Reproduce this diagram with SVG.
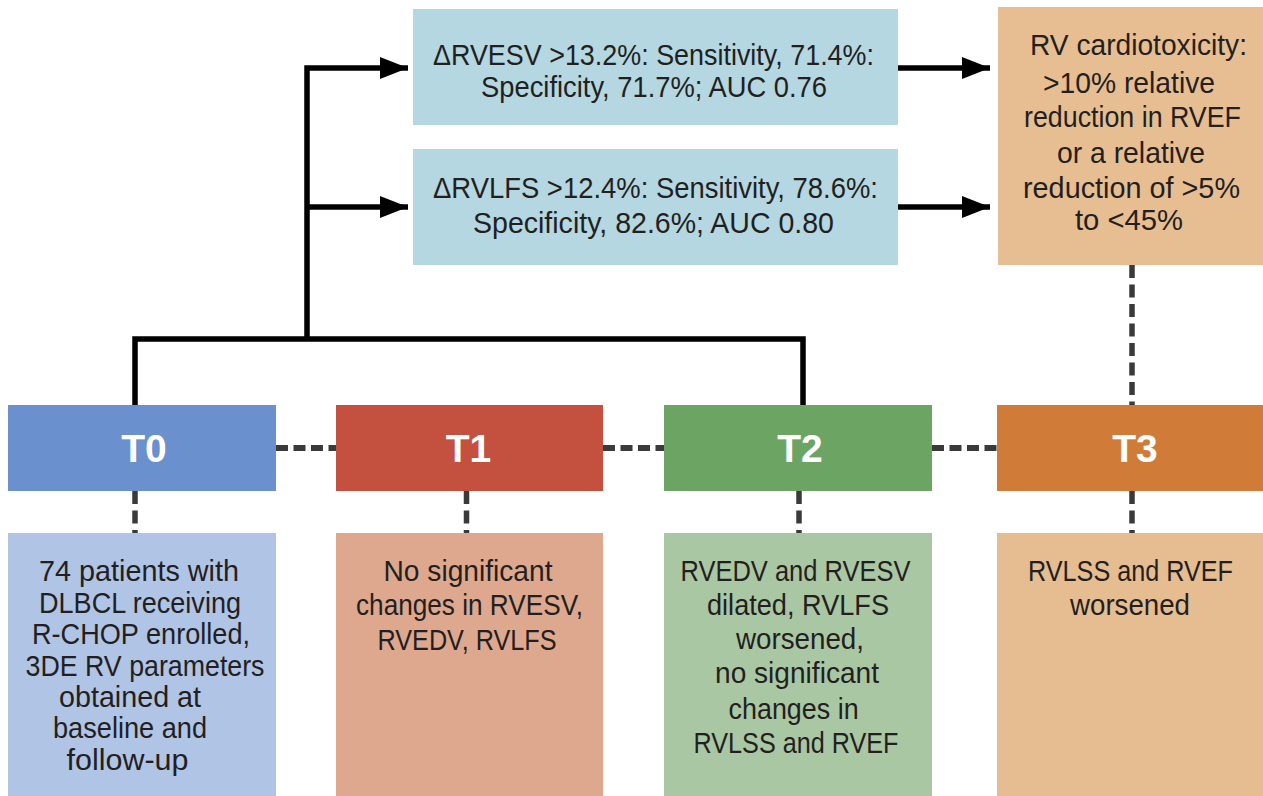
<svg xmlns="http://www.w3.org/2000/svg" width="1263" height="796" viewBox="0 0 1263 796">
<style>
  .t { font-family: "Liberation Sans", Arial, sans-serif; fill: #231F20; text-anchor: middle; }
  .top { font-size: 30px; }
  .bot { font-size: 29px; }
  .lbl { font-family: "Liberation Sans", Arial, sans-serif; font-size: 39px; font-weight: bold; fill: #FFFFFF; text-anchor: middle; }
  .solid { fill: none; stroke: #000000; stroke-width: 5.5; stroke-linejoin: miter; stroke-linecap: butt; }
  .dashH { fill: none; stroke: #3A3A3A; stroke-width: 6; stroke-dasharray: 12 5.5; }
  .dashV { fill: none; stroke: #3A3A3A; stroke-width: 5.5; stroke-dasharray: 13 6.5; }
</style>
<defs>
  <marker id="arr" markerUnits="userSpaceOnUse" markerWidth="30" markerHeight="24" refX="28" refY="11" orient="auto">
    <path d="M0,0 L28,11 L0,22 Z" fill="#000000"/>
  </marker>
</defs>
<rect width="1263" height="796" fill="#FFFFFF"/>

<g id="connectors">
  <path class="solid" d="M135,405 V339 H803 V405"/>
  <path class="solid" d="M307,339 V68 H408" marker-end="url(#arr)"/>
  <path class="solid" d="M307,207 H408" marker-end="url(#arr)"/>
  <path class="solid" d="M898,68 H990" marker-end="url(#arr)"/>
  <path class="solid" d="M898,207 H990" marker-end="url(#arr)"/>
  <path class="dashH" d="M276,448 H336"/>
  <path class="dashH" d="M603,448 H664"/>
  <path class="dashH" d="M932,448 H997"/>
  <path class="dashV" d="M1132,265 V405"/>
  <path class="dashV" d="M135,491 V533"/>
  <path class="dashV" d="M466.5,491 V533"/>
  <path class="dashV" d="M799,491 V533"/>
  <path class="dashV" d="M1132,491 V533"/>
</g>

<g id="box-rvesv">
  <rect x="413" y="9" width="485" height="116" fill="#B4D7E1"/>
  <text class="t top" x="653.5" y="65" textLength="441" lengthAdjust="spacingAndGlyphs">ΔRVESV &gt;13.2%: Sensitivity, 71.4%:</text>
  <text class="t top" x="654" y="97" textLength="346" lengthAdjust="spacingAndGlyphs">Specificity, 71.7%; AUC 0.76</text>
</g>

<g id="box-rvlfs">
  <rect x="413" y="149" width="485" height="116" fill="#B4D7E1"/>
  <text class="t top" x="655.5" y="198" textLength="445" lengthAdjust="spacingAndGlyphs">ΔRVLFS &gt;12.4%: Sensitivity, 78.6%:</text>
  <text class="t top" x="653.5" y="233" textLength="361" lengthAdjust="spacingAndGlyphs">Specificity, 82.6%; AUC 0.80</text>
</g>

<g id="box-cardiotox">
  <rect x="998" y="7" width="265" height="258" fill="#E7BE92"/>
  <text class="t top" x="1138.5" y="55" textLength="217" lengthAdjust="spacingAndGlyphs">RV cardiotoxicity:</text>
  <text class="t top" x="1129" y="93" textLength="172" lengthAdjust="spacingAndGlyphs">&gt;10% relative</text>
  <text class="t top" x="1132.5" y="127" textLength="217" lengthAdjust="spacingAndGlyphs">reduction in RVEF</text>
  <text class="t top" x="1131" y="163" textLength="148" lengthAdjust="spacingAndGlyphs">or a relative</text>
  <text class="t top" x="1131.5" y="198" textLength="217" lengthAdjust="spacingAndGlyphs">reduction of &gt;5%</text>
  <text class="t top" x="1129" y="230" textLength="108" lengthAdjust="spacingAndGlyphs">to &lt;45%</text>
</g>

<g id="node-t0">
  <rect x="8" y="405" width="268" height="86" fill="#6A91CE"/>
  <text class="lbl" x="144" y="462">T0</text>
</g>
<g id="node-t1">
  <rect x="336" y="405" width="267" height="86" fill="#C45140"/>
  <text class="lbl" x="468.5" y="462">T1</text>
</g>
<g id="node-t2">
  <rect x="664" y="405" width="268" height="86" fill="#6CA563"/>
  <text class="lbl" x="800" y="462">T2</text>
</g>
<g id="node-t3">
  <rect x="997" y="405" width="266" height="86" fill="#D07C38"/>
  <text class="lbl" x="1135" y="462">T3</text>
</g>

<g id="desc-t0">
  <rect x="8" y="533" width="268" height="263" fill="#B0C4E6"/>
  <text class="t bot" x="139" y="581" textLength="200" lengthAdjust="spacingAndGlyphs">74 patients with</text>
  <text class="t bot" x="140" y="613" textLength="202" lengthAdjust="spacingAndGlyphs">DLBCL receiving</text>
  <text class="t bot" x="141" y="644" textLength="218" lengthAdjust="spacingAndGlyphs">R-CHOP enrolled,</text>
  <text class="t bot" x="145" y="676" textLength="239" lengthAdjust="spacingAndGlyphs">3DE RV parameters</text>
  <text class="t bot" x="130" y="707" textLength="142" lengthAdjust="spacingAndGlyphs">obtained at</text>
  <text class="t bot" x="130" y="738" textLength="154" lengthAdjust="spacingAndGlyphs">baseline and</text>
  <text class="t bot" x="127.5" y="770" textLength="122" lengthAdjust="spacingAndGlyphs">follow-up</text>
</g>

<g id="desc-t1">
  <rect x="336" y="533" width="267" height="263" fill="#DEA88F"/>
  <text class="t bot" x="468" y="581" textLength="169" lengthAdjust="spacingAndGlyphs">No significant</text>
  <text class="t bot" x="469.5" y="615" textLength="227" lengthAdjust="spacingAndGlyphs">changes in RVESV,</text>
  <text class="t bot" x="467" y="650" textLength="179" lengthAdjust="spacingAndGlyphs">RVEDV, RVLFS</text>
</g>

<g id="desc-t2">
  <rect x="664" y="533" width="268" height="263" fill="#AAC7A4"/>
  <text class="t bot" x="795.5" y="581" textLength="230" lengthAdjust="spacingAndGlyphs">RVEDV and RVESV</text>
  <text class="t bot" x="798" y="615" textLength="182" lengthAdjust="spacingAndGlyphs">dilated, RVLFS</text>
  <text class="t bot" x="800" y="649" textLength="128" lengthAdjust="spacingAndGlyphs">worsened,</text>
  <text class="t bot" x="797" y="683" textLength="164" lengthAdjust="spacingAndGlyphs">no significant</text>
  <text class="t bot" x="793.6" y="719" textLength="130" lengthAdjust="spacingAndGlyphs">changes in</text>
  <text class="t bot" x="796" y="753" textLength="205" lengthAdjust="spacingAndGlyphs">RVLSS and RVEF</text>
</g>

<g id="desc-t3">
  <rect x="997" y="533" width="266" height="263" fill="#E6BC91"/>
  <text class="t bot" x="1130.5" y="581" textLength="205" lengthAdjust="spacingAndGlyphs">RVLSS and RVEF</text>
  <text class="t bot" x="1130" y="615" textLength="120" lengthAdjust="spacingAndGlyphs">worsened</text>
</g>
</svg>
